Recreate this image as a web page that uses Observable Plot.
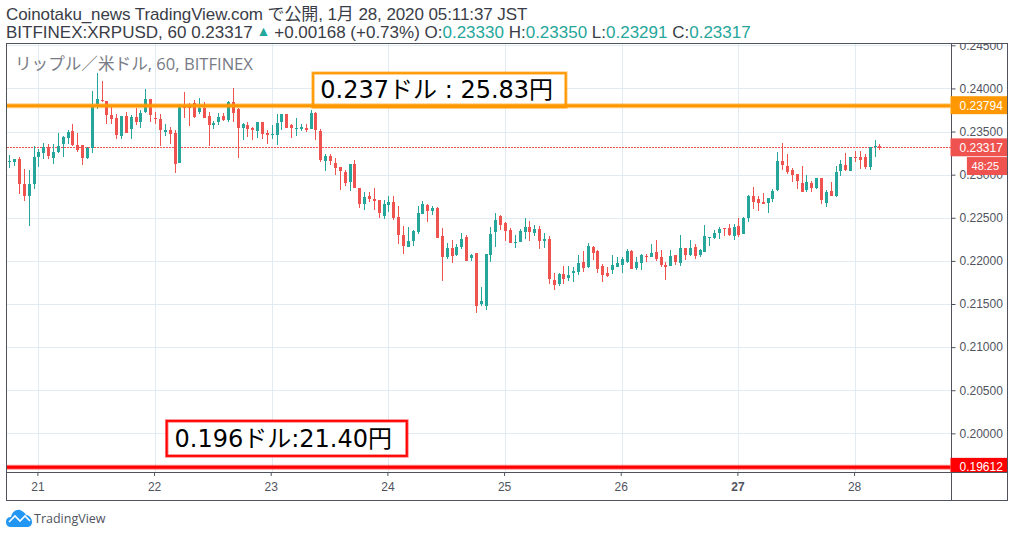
<!DOCTYPE html>
<html lang="ja">
<head>
<meta charset="utf-8">
<script src="https://cdn.jsdelivr.net/npm/d3@7"></script>
<script src="https://cdn.jsdelivr.net/npm/@observablehq/plot@0.6"></script>
<style>
html,body{margin:0;padding:0;background:#fff;width:1014px;height:537px;overflow:hidden}
body{position:relative;font-family:"Liberation Sans","Noto Sans CJK JP",sans-serif}
#head{position:absolute;left:6px;top:6px;font-size:17px;line-height:18px;color:#3a3d47;white-space:nowrap;font-family:"Liberation Sans","Noto Sans CJK JP",sans-serif}
#head .l1{letter-spacing:-0.09px}
#head .v{color:#26a69a}
#head .tri{font-size:14px;position:relative;top:-2px}
#chart{position:absolute;left:0;top:43px}
#box{position:absolute;left:6px;top:43px;width:1000px;height:456px;border:1px solid #50535e;pointer-events:none}
#foot{position:absolute;left:6px;top:509px;display:flex;align-items:center;gap:2px;font-size:12.5px;color:#50535e;font-family:"Open Sans",sans-serif}
</style>
</head>
<body>
<div id="head">
<div class="l1">Coinotaku_news TradingView.com で公開, 1月 28, 2020 05:11:37 JST</div>
<div>BITFINEX:XRPUSD, 60 0.23317<span class="v tri"> ▲ </span>+0.00168 (+0.73%) O:<span class="v">0.23330</span> H:<span class="v">0.23350</span> L:<span class="v">0.23291</span> C:<span class="v">0.23317</span></div>
</div>
<div id="chart"></div>
<div id="box"></div>
<div id="foot"><svg width="26" height="18" viewBox="0 0 26 18"><path fill="#2196f3" d="M0 13C0 9 3 8 5 8C6 3 10 0 14 1C17 2 19 4 20 6C23 6 26 9 26 13C26 16 24 18 21 18H5C2 18 0 16 0 13Z"/><path fill="none" stroke="#fff" stroke-width="1.6" d="M3 13L9 7L14 12L19 7L24 12"/></svg><span>TradingView</span></div>
<script>
// Hourly candles, hours counted from the start of day 21; the first is 6 hours earlier.
const firstHour = -6;
const highs = [
.23228,.23182,.23201,.23066,.23054,.23332,.23298,.23367,.23356,.23356,
.23483,.23448,.23518,.23588,.23483,.23344,.2332,.23969,.24178,.24085,
.2386,.23785,.23704,.23681,.23727,.23692,.23773,.2375,.23993,.23878,
.23727,.23704,.23588,.23553,.23518,.23819,.23958,.23831,.23866,.23889,
.23843,.23727,.23622,.23715,.23715,.23854,.24004,.23773,.23599,.23611,
.23553,.23611,.23611,.23518,.23576,.23704,.23704,.23704,.23588,.23657,
.23588,.23588,.2375,.23727,.2353,.2324,.2324,.23193,.23089,.23054,
.23124,.2317,.22845,.22799,.22799,.22845,.22706,.22706,.22752,.22752,
.22636,.22404,.22393,.22358,.22636,.22694,.2266,.22636,.22625,.22381,
.22207,.22242,.22196,.22323,.223,.2208,.22091,.21698,.2208,.22393,
.22555,.22532,.22451,.22381,.223,.2237,.22497,.22462,.22416,.22404,
.22323,.22288,.2186,.2186,.21941,.21941,.2193,.22068,.22114,.22207,
.22172,.22126,.21964,.2193,.22068,.22045,.22045,.22138,.22126,.22045,
.2208,.2208,.22196,.22242,.22126,.21988,.22126,.22068,.223,.22149,
.22242,.22196,.22138,.22416,.22277,.22358,.22393,.22381,.22428,.22428,
.22497,.22509,.22764,.22857,.22752,.22787,.22729,.22834,.23263,.23367,
.2324,.23077,.23008,.231,.22996,.22926,.22961,.22961,.22822,.22915,
.231,.2317,.23251,.23205,.23274,.23274,.2324,.2332,.23402,.2335];
const lows = [
.2308,.231,.22776,.22694,.22404,.22834,.23089,.23182,.23182,.23124,
.23251,.23205,.23356,.23332,.23263,.23112,.23182,.23251,.23762,.23843,
.23588,.23588,.23414,.23414,.23483,.23414,.23576,.23541,.23715,.23611,
.23588,.23332,.23448,.23356,.23019,.23135,.23657,.23564,.23657,.23704,
.23657,.23332,.2353,.23576,.23622,.23611,.23611,.23193,.23402,.23437,
.23402,.23425,.23414,.23356,.23414,.23344,.23518,.23541,.23425,.23448,
.23506,.23495,.2353,.23402,.23147,.23042,.23112,.22996,.22822,.22868,
.2281,.22845,.22613,.2259,.22683,.2259,.22497,.22485,.22567,.22474,
.22196,.2208,.2216,.22172,.22312,.22544,.22451,.22532,.22265,.21767,
.22022,.21976,.22056,.22138,.21999,.21999,.21396,.21477,.21431,.21988,
.22161,.22358,.2223,.22207,.22149,.22219,.22254,.2223,.22288,.22138,
.22149,.21733,.21663,.2171,.21733,.21767,.21756,.21837,.21872,.21918,
.22011,.2186,.21756,.21814,.21849,.2193,.2186,.21976,.21906,.21895,
.21895,.21988,.22045,.21999,.2193,.21779,.21941,.21953,.21941,.22011,
.22056,.22022,.22045,.22103,.22172,.22254,.22254,.22288,.22288,.22242,
.22277,.22312,.22451,.22602,.22578,.2266,.22555,.22683,.2281,.23054,
.23008,.22915,.22834,.22799,.22799,.22799,.22834,.2266,.22625,.22752,
.22741,.22984,.23042,.23042,.23147,.23066,.23066,.23054,.23205,.23291];
const opens = [
.2315,.23147,.23182,.22892,.22752,.22892,.23205,.23251,.2332,.23193,
.23263,.23356,.23425,.23506,.23344,.23344,.23193,.23304,.23825,.23866,
.23854,.23692,.23657,.23448,.23681,.2353,.23669,.23611,.23727,.23878,
.23657,.23646,.23495,.23518,.23483,.23141,.23796,.23796,.23831,.23727,
.23773,.2368,.23576,.23611,.2368,.23634,.23843,.23762,.23541,.23576,
.23541,.23506,.23611,.23483,.2346,.2346,.23611,.23704,.23576,.2353,
.2353,.23541,.2353,.23715,.23506,.23158,.23216,.23135,.23089,.23031,
.22915,.23124,.22845,.2266,.22752,.22718,.22706,.2252,.22648,.22683,
.22509,.223,.2216,.2223,.22335,.22544,.22648,.22578,.22613,.22288,
.22045,.22149,.22068,.22161,.22277,.22033,.22091,.21501,.21477,.22068,
.22335,.2252,.2244,.22358,.22207,.22219,.22335,.22393,.22323,.2237,
.2223,.22254,.21779,.21733,.21849,.21802,.2186,.21872,.21988,.2193,
.2216,.22114,.21941,.2186,.21895,.2193,.21953,.21988,.22114,.21918,
.21976,.22056,.22045,.22103,.22045,.21953,.21941,.22068,.21976,.22149,
.22068,.22161,.22068,.22103,.22265,.22265,.22323,.22381,.22381,.22288,
.22404,.22312,.22497,.22752,.22718,.22683,.22671,.22718,.22822,.23158,
.231,.23054,.23008,.22903,.22822,.22903,.22845,.22961,.22671,.2281,
.22752,.23042,.23112,.23042,.23205,.23205,.23205,.23089,.2332,.2333];
const closes = [
.23162,.23182,.22892,.22752,.22892,.23205,.23263,.2332,.23216,.23263,
.23332,.23437,.23495,.23344,.23286,.23193,.23309,.2379,.23878,.23854,
.23692,.23646,.2346,.23681,.23483,.23669,.23611,.23715,.23878,.23692,
.23646,.23518,.23518,.23472,.23124,.2379,.23773,.23773,.23669,.23773,
.23657,.23576,.23599,.23669,.23634,.23843,.23715,.23541,.23588,.2353,
.23518,.23611,.23472,.2346,.23472,.23599,.23704,.23541,.23541,.23541,
.23553,.23518,.23715,.23518,.2317,.23216,.23158,.23077,.23042,.22903,
.23124,.22845,.2266,.22741,.22718,.22694,.22555,.2266,.22683,.22497,
.223,.22172,.2223,.22346,.22555,.2266,.22578,.22613,.22265,.22045,
.22149,.22056,.22161,.22254,.21999,.22068,.21477,.21535,.2208,.22312,
.22474,.22416,.22346,.22207,.22219,.22346,.22393,.22335,.2237,.2223,
.22254,.21791,.21721,.21849,.21791,.21837,.21883,.21976,.21918,.22172,
.22091,.21906,.21837,.21825,.21953,.21976,.22022,.22114,.21906,.21988,
.22068,.22045,.22091,.22022,.21953,.2193,.22056,.21988,.22149,.22068,
.22149,.22056,.22126,.22288,.22277,.22323,.2237,.2237,.223,.22393,
.223,.22497,.22752,.22683,.22671,.2266,.22729,.2281,.23158,.23112,
.23031,.22996,.22926,.22799,.22915,.22845,.22961,.22706,.22799,.22752,
.23031,.23124,.23054,.23205,.23193,.2317,.23089,.2332,.23332,.23317];

const dayHours = [0, 24, 48, 72, 96, 120, 144, 168];
const dayLabels = ["21", "22", "23", "24", "25", "26", "27", "28"];
const priceTicks = [0.2, 0.205, 0.21, 0.215, 0.22, 0.225, 0.23, 0.235, 0.24, 0.245];
const lastPrice = 0.23317, resistance = 0.23794, support = 0.19612;
const countdownPrice = 0.231;
const watermark = "リップル／米ドル, 60, BITFINEX";
const resistanceNote = "0.237ドル : 25.83円";
const supportNote = "0.196ドル:21.40円";

const up = "#26a69a", down = "#ef5350", orange = "#ff9800", red = "#ff0000";
const grid = "#e1ecf2", ink = "#50535e";
const fontStack = '"Liberation Sans","Noto Sans CJK JP",sans-serif';
const noteFont = '"DejaVu Sans","Noto Sans CJK JP",sans-serif';

// scale extents; the right strip and the footer band lie beyond them
const xMin = -6.56, xMax = 187.63, xEnd = 199.3, xCountdown = 191;
const yMin = 0.19552, yMax = 0.24521, yFloor = 0.19227;
const tagHalf = 0.00104;

const rows = opens.map((o, i) => ({h: i + firstHour, open: o, high: highs[i], low: lows[i], close: closes[i]}));
const rising = rows.filter(d => d.close >= d.open);
const falling = rows.filter(d => d.close < d.open);

const candle = (data, color) => [
  Plot.ruleX(data, {x: "h", y1: "low", y2: "high", stroke: color, strokeWidth: 1, shapeRendering: "crispEdges"}),
  Plot.ruleX(data, {x: "h", y1: "open", y2: "close", stroke: color, strokeWidth: 3, shapeRendering: "crispEdges"})
];
const level = (price, color, dy) => [
  Plot.ruleY([price], {x1: xMin, x2: xMax, dy, stroke: color, strokeWidth: 5, strokeOpacity: 0.45}),
  Plot.ruleY([price], {x1: xMin, x2: xMax, dy, stroke: color, strokeWidth: 3})
];
const note = (text, x1, x2, y1, y2, color, tx, ty) => [
  Plot.rect([0], {x1, x2, y1, y2, fill: "white", stroke: color, strokeWidth: 3.5, strokeOpacity: 0.5}),
  Plot.rect([0], {x1, x2, y1, y2, stroke: color, strokeWidth: 1.8}),
  Plot.text([text], {x: tx, y: ty, textAnchor: "start", fontSize: 24, fill: "black", fontFamily: noteFont})
];
const tag = (label, x1, price, color, low, high, tx, size, dy = 0) => [
  Plot.rect([0], {x1, x2: xEnd, y1: low, y2: high, dy, fill: color}),
  Plot.text([label], {x: tx, y: price, dy, textAnchor: "start", fill: "white", fontSize: size, fontFamily: fontStack})
];
const tagged = (price, color, dy = 0) => tag(price.toFixed(5), xMax, price, color,
  Math.max(price - tagHalf, yMin), price + tagHalf, xMax + 1.75, 12, dy);

const chart = Plot.plot({
  width: 1014,
  height: 458,
  marginLeft: 6.5,
  marginRight: 63.5,
  marginTop: 0.5,
  marginBottom: 29,
  style: {fontFamily: fontStack, background: "transparent", overflow: "hidden"},
  x: {domain: [xMin, xMax], axis: null},
  y: {domain: [yMin, yMax], axis: null},
  marks: [
    Plot.gridX(dayHours, {stroke: grid, strokeOpacity: 1, shapeRendering: "crispEdges"}),
    Plot.gridY(priceTicks, {stroke: grid, strokeOpacity: 1, shapeRendering: "crispEdges"}),
    Plot.text([watermark], {frameAnchor: "top-left", dx: 8, dy: 14, textAnchor: "start", fontSize: 16.6, fill: "#787b86", fontFamily: '"Open Sans","Noto Sans CJK JP",sans-serif'}),
    Plot.ruleY([lastPrice], {x1: xMin, x2: xMax, stroke: down, strokeWidth: 1, strokeDasharray: "2,1", shapeRendering: "crispEdges"}),
    ...candle(rising, up),
    ...candle(falling, down),
    ...note(resistanceNote, 56.5, 108.5, 0.23784, 0.24178, orange, 57.9, 0.23981),
    ...note(supportNote, 26.4, 75.8, 0.19738, 0.20144, red, 27.9, 0.19941),
    ...level(resistance, orange, -1),
    ...level(support, red, 0),
    Plot.ruleX([xMax], {y1: yFloor, y2: yMax, stroke: ink, shapeRendering: "crispEdges"}),
    Plot.ruleY([yMin], {x1: xMin, x2: xEnd, stroke: ink, shapeRendering: "crispEdges"}),
    Plot.axisY(priceTicks, {anchor: "right", tickSize: 4, tickPadding: 4.5, tickFormat: ".5f", label: null, stroke: ink, fill: ink, fontSize: 12, textStroke: "none"}),
    Plot.axisX(dayHours.filter(h => dayLabels[h / 24] !== "27"), {anchor: "bottom", tickSize: 4, tickPadding: 6, dx: -1, tickFormat: h => dayLabels[h / 24], label: null, stroke: ink, fill: ink, fontSize: 12, textStroke: "none"}),
    Plot.axisX([144], {anchor: "bottom", tickSize: 4, tickPadding: 6, dx: -1, tickFormat: h => dayLabels[h / 24], label: null, stroke: ink, fill: ink, fontSize: 12, fontWeight: "bold", textStroke: "none"}),
    ...tagged(resistance, orange, -1),
    ...tagged(lastPrice, down),
    ...tagged(support, red),
    ...tag("48:25", xCountdown, countdownPrice, down, countdownPrice - tagHalf, countdownPrice + tagHalf, xCountdown + 0.85, 11)
  ]
});
document.getElementById("chart").appendChild(chart);
</script>
</body>
</html>
